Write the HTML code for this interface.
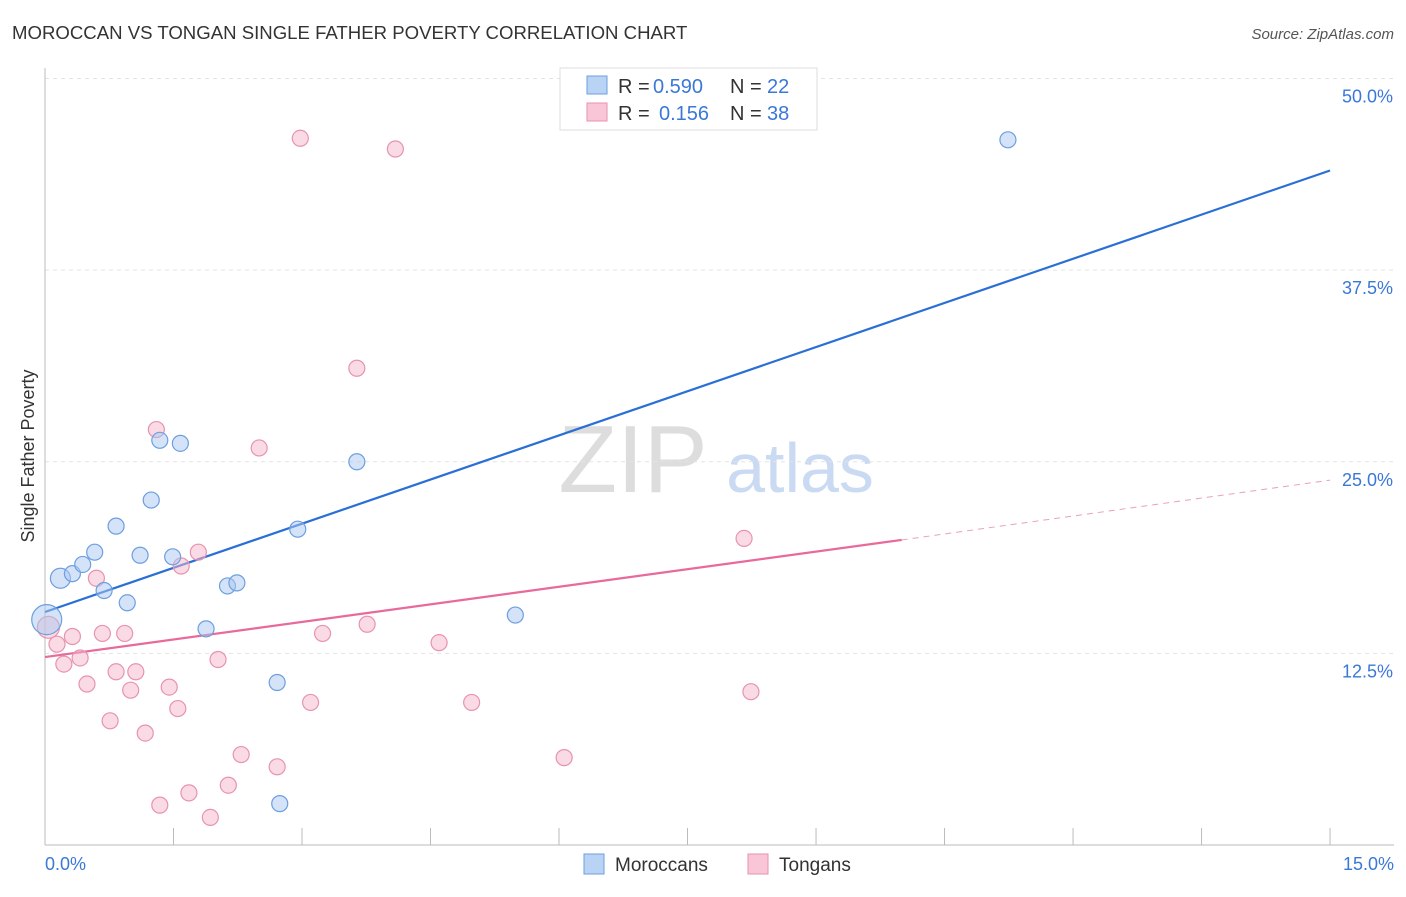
<!DOCTYPE html>
<html><head><meta charset="utf-8"><style>
body{margin:0;background:#fff;font-family:"Liberation Sans",sans-serif}
svg text{font-family:"Liberation Sans",sans-serif}
</style></head><body>
<svg width="1406" height="892" viewBox="0 0 1406 892">
<text x="12" y="39" font-size="18.6" fill="#333">MOROCCAN VS TONGAN SINGLE FATHER POVERTY CORRELATION CHART</text>
<text x="1394" y="39" font-size="15" fill="#555" font-style="italic" text-anchor="end">Source: ZipAtlas.com</text>
<text x="633" y="492" font-size="96" fill="#ddd" font-family="Liberation Serif" text-anchor="middle">ZIP</text>
<text x="800" y="492" font-size="70" fill="#c9daf2" text-anchor="middle">atlas</text>
<g id="grid"></g>
<g id="axes"></g>
<g id="lines"></g>
<g id="points"></g>
<text transform="translate(34,456) rotate(-90)" font-size="18" fill="#333" text-anchor="middle">Single Father Poverty</text>
<text x="45" y="870" font-size="18" fill="#3a78d8">0.0%</text>
<text x="1394" y="870" font-size="18" fill="#3a78d8" text-anchor="end">15.0%</text>
<g>
<rect x="560" y="68" width="257" height="62" fill="#fff" stroke="#ddd"/>
<rect x="587" y="76" width="20" height="18" fill="#b9d3f5" stroke="#6c9fe0"/>
<text x="618" y="93" font-size="20" fill="#333">R =</text>
<text x="653" y="93" font-size="20" fill="#3a78d8">0.590</text>
<text x="730" y="93" font-size="20" fill="#333">N =</text>
<text x="767" y="93" font-size="20" fill="#3a78d8">22</text>
<rect x="587" y="103" width="20" height="18" fill="#f8c6d6" stroke="#e893ae"/>
<text x="618" y="120" font-size="20" fill="#333">R =</text>
<text x="659" y="120" font-size="20" fill="#3a78d8">0.156</text>
<text x="730" y="120" font-size="20" fill="#333">N =</text>
<text x="767" y="120" font-size="20" fill="#3a78d8">38</text>
</g>
<g>
<rect x="584" y="854" width="20" height="20" fill="#b9d3f5" stroke="#6c9fe0"/>
<text x="615" y="871" font-size="19" fill="#333">Moroccans</text>
<rect x="748" y="854" width="20" height="20" fill="#f8c6d6" stroke="#e893ae"/>
<text x="779" y="871" font-size="19" fill="#333">Tongans</text>
</g>
</svg>
<script>
const yTicks=[12.5,25,37.5,50];
const yTickLabels=["12.5%","25.0%","37.5%","50.0%"];
const xTicks=[0,1.5,3,4.5,6,7.5,9,10.5,12,13.5,15];
const moroccanX=[0.02,0.18,0.32,0.44,0.58,0.69,0.83,0.96,1.11,1.24,1.34,1.49,1.58,1.88,2.13,2.24,2.71,2.74,2.95,3.64,5.49,11.24];
const moroccanY=[14.7,17.4,17.7,18.3,19.1,16.6,20.8,15.8,18.9,22.5,26.4,18.8,26.2,14.1,16.9,17.1,10.6,2.7,20.6,25.0,15.0,46.0];
const tonganX=[0.04,0.14,0.22,0.32,0.41,0.49,0.60,0.67,0.76,0.83,0.93,1.00,1.06,1.17,1.30,1.34,1.45,1.55,1.59,1.68,1.79,1.93,2.02,2.14,2.29,2.50,2.71,2.98,3.10,3.24,3.64,3.76,4.09,4.60,4.98,6.06,8.16,8.24];
const tonganY=[14.2,13.1,11.8,13.6,12.2,10.5,17.4,13.8,8.1,11.3,13.8,10.1,11.3,7.3,27.1,2.6,10.3,8.9,18.2,3.4,19.1,1.8,12.1,3.9,5.9,25.9,5.1,46.1,9.3,13.8,31.1,14.4,45.4,13.2,9.3,5.7,20.0,10.0];
const blueLine=[[0,15.2],[15,44.0]];
const pinkLine=[[0,12.26],[10.0,19.9]];
const pinkDash=[[10.0,19.9],[15,23.8]];
const NS="http://www.w3.org/2000/svg";
const sx=v=>45+v*85.67, sy=v=>845-v*15.33;
function mk(t,a,p){const e=document.createElementNS(NS,t);for(const k in a)e.setAttribute(k,a[k]);document.getElementById(p).appendChild(e);return e;}
yTicks.forEach((t,i)=>{
 const g=mk('line',{x1:45,x2:1394,y1:sy(t),y2:sy(t),stroke:'#e3e3e3','stroke-dasharray':'4,4'},'grid');
 
 
 const l=mk('text',{x:1393,y:sy(t)+24,'font-size':18,fill:'#3a78d8','text-anchor':'end'},'grid');
 l.textContent=yTickLabels[i];
 
 
});
const ax=mk('line',{x1:45,x2:1394,y1:845,y2:845,stroke:'#bbb'},'axes');


const ay=mk('line',{x1:45,x2:45,y1:68,y2:845,stroke:'#bbb'},'axes');


xTicks.forEach(t=>{
 const k=mk('line',{x1:sx(t),x2:sx(t),y1:828,y2:845,stroke:'#bbb'},'axes');
 
 
});
function ln(p,st,dash,name){
 const e=mk('line',{x1:sx(p[0][0]),y1:sy(p[0][1]),x2:sx(p[1][0]),y2:sy(p[1][1]),stroke:st,'stroke-width':dash?1:2.2},'lines');
 if(dash)e.setAttribute('stroke-dasharray','6,5');
 
 
}
ln(blueLine,'#2a6fd6',false,'moroccan-trend-line');
ln(pinkLine,'#e8699a',false,'tongan-trend-line');
ln(pinkDash,'#e8a0bb',true,'tongan-trend-extension');
tonganX.forEach((x,i)=>{
 const c=mk('circle',{cx:sx(x),cy:sy(tonganY[i]),r:i==0?11:8,fill:'rgba(245,184,203,0.5)',stroke:'#e893ae','stroke-width':1.2},'points');
 
 
});
moroccanX.forEach((x,i)=>{
 const c=mk('circle',{cx:sx(x),cy:sy(moroccanY[i]),r:i==0?15:(i==1?10:8),fill:'rgba(169,200,240,0.5)',stroke:'#6c9fe0','stroke-width':1.2},'points');
 
 
});
</script>
</body></html>
